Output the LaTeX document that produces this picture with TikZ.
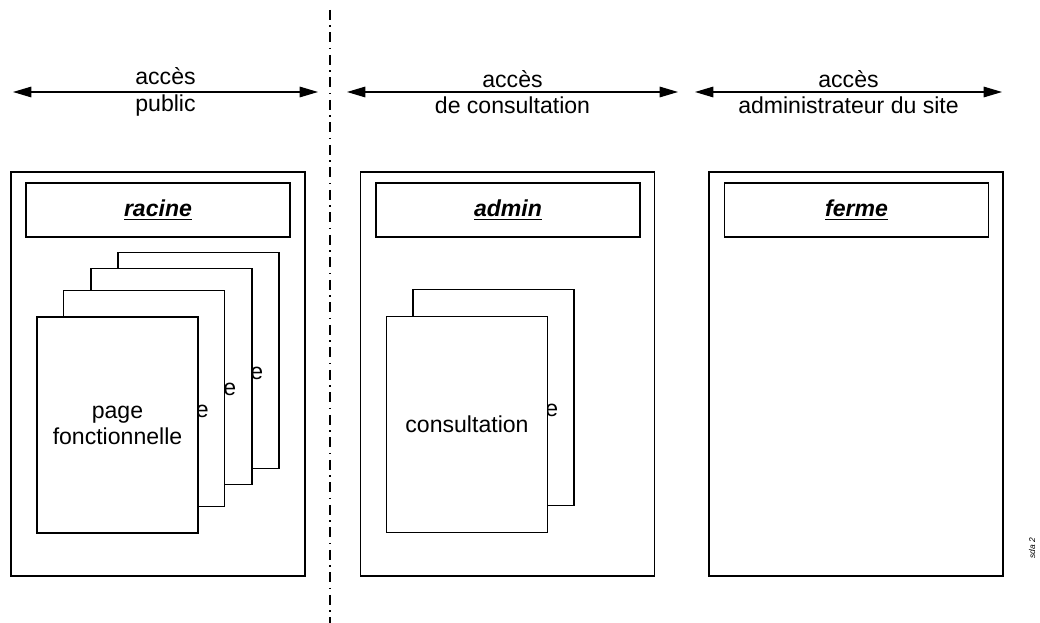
\documentclass[tikz,border=0pt]{standalone}
\usepackage{fontspec}
\setmainfont{Liberation Sans}
\usetikzlibrary{arrows.meta}

\tikzset{
  zone/.style={draw, line width=0.85pt, minimum width=7.35cm, minimum height=10.1cm, inner sep=0pt},
  titre/.style={draw, line width=0.85pt, minimum width=6.6cm, minimum height=1.35cm, inner sep=0pt,
    font=\fontsize{16.4}{18.5}\selectfont\bfseries\itshape},
  feuille/.style={draw, fill=white, line width=0.85pt, minimum width=4.025cm, minimum height=5.4cm,
    inner sep=0pt, align=center},
  acces/.style={align=center, font=\fontsize{16.4}{19}\selectfont},
  fleche/.style={{Triangle[length=13pt,width=7.5pt]}-{Triangle[length=13pt,width=7.5pt]}, line width=0.85pt},
  separation/.style={line width=0.85pt, dash pattern=on 7pt off 4pt on 1pt off 4pt},
}

\begin{document}
\begin{tikzpicture}[x=0.025cm, y=-0.025cm, every node/.style={font=\fontsize{16.4}{18.5}\selectfont}]
    \useasboundingbox (0,0) rectangle (1040,623);

    % Limite de l'acces public
    \coordinate (sep haut) at (330,10);
    \coordinate (sep bas) at (330,623);
    \draw[separation] (sep haut) -- (sep bas);

    % Niveaux d'acces
    \coordinate (pub g) at (13,92);
    \coordinate (pub d) at (318,92);
    \draw[fleche] (pub g) -- (pub d);
    \node[acces] (pub) at (165.5,92) {accès\\public};

    \coordinate (cons g) at (347,92);
    \coordinate (cons d) at (678,92);
    \draw[fleche] (cons g) -- (cons d);
    \node[acces] (cons) at (512.5,92) {accès\\de consultation};

    \coordinate (adm g) at (695,92);
    \coordinate (adm d) at (1002,92);
    \draw[fleche] (adm g) -- (adm d);
    \node[acces] (adm) at (848.5,92) {accès\\administrateur du site};

    % Zones
    \node[zone] (z racine) at (158,374) {};
    \node[zone] (z admin) at (507.5,374) {};
    \node[zone] (z ferme) at (856,374) {};

    \node[titre] (t racine) at (158,210) {\underline{racine}};
    \node[titre] (t admin) at (508,210) {\underline{admin}};
    \node[titre] (t ferme) at (856.5,210) {\underline{ferme}};

    % Pages de la racine
    \node[feuille] (p4) at (198.5,360.5) {page\\fonctionnelle};
    \node[feuille] (p3) at (171.5,376.5) {page\\fonctionnelle};
    \node[feuille] (p2) at (144,398.5) {page\\fonctionnelle};
    \node[feuille] (p1) at (117.5,425) {page\\fonctionnelle};

    % Pages de l'admin
    \node[feuille] (c2) at (493.5,397.5) {page\\fonctionnelle};
    \node[feuille] (c1) at (467,424.5) {consultation};

    \node[rotate=90, font=\fontsize{6}{7}\selectfont\itshape] (ref) at (1032,548) {sda 2};
\end{tikzpicture}
\end{document}
